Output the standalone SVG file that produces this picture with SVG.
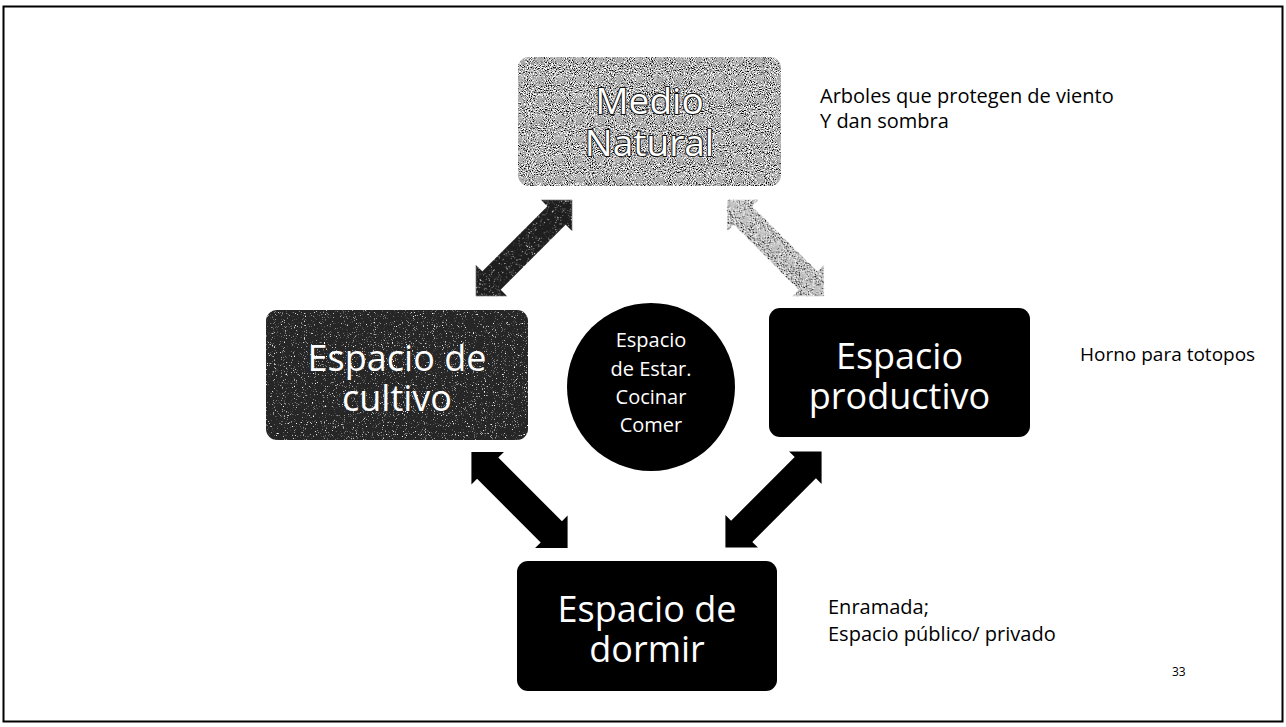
<svg xmlns="http://www.w3.org/2000/svg" width="1286" height="727" viewBox="0 0 1286 727">
<style>
.lbl{font-family:"Open Sans","Noto Sans",sans-serif;fill:#fff;text-anchor:middle}
.big{font-size:36px}
.sm{font-size:20px}
.note{font-family:"Open Sans","Noto Sans",sans-serif;font-size:20px;fill:#000}
.out{fill:#fff;stroke:#111;stroke-width:2px;paint-order:stroke;font-size:37px}
</style>
<defs>
<filter id="spkW" x="0" y="0" width="100%" height="100%" color-interpolation-filters="sRGB">
<feTurbulence type="fractalNoise" baseFrequency="0.9" numOctaves="2" seed="4" result="t"/>
<feColorMatrix in="t" type="matrix" values="0 0 0 0 1 0 0 0 0 1 0 0 0 0 1 5 0 0 0 -3.1" result="w"/>
<feComposite in="w" in2="SourceGraphic" operator="in" result="wm"/>
<feMerge><feMergeNode in="SourceGraphic"/><feMergeNode in="wm"/></feMerge>
</filter>
<filter id="spkG" x="0" y="0" width="100%" height="100%" color-interpolation-filters="sRGB">
<feTurbulence type="fractalNoise" baseFrequency="0.95" numOctaves="2" seed="7" result="t"/>
<feColorMatrix in="t" type="matrix" values="0 0 0 0 1 0 0 0 0 1 0 0 0 0 1 6 0 0 0 -3.0" result="w"/>
<feColorMatrix in="t" type="matrix" values="0 0 0 0 0 0 0 0 0 0 0 0 0 0 0 -6 0 0 0 2.6" result="b"/>
<feComposite in="w" in2="SourceGraphic" operator="in" result="wm"/>
<feComposite in="b" in2="SourceGraphic" operator="in" result="bm"/>
<feMerge><feMergeNode in="SourceGraphic"/><feMergeNode in="wm"/><feMergeNode in="bm"/></feMerge>
</filter>
<path id="arr" d="M68,0 L46,-22 L46,-13 L-46,-13 L-46,-22 L-68,0 L-46,22 L-46,13 L46,13 L46,22 Z"/>
<path id="arrB" d="M68,0 L45,-23 L45,-15 L-45,-15 L-45,-23 L-68,0 L-45,23 L-45,15 L45,15 L45,23 Z"/>
</defs>
<rect x="0" y="0" width="1286" height="727" fill="#fff"/>
<rect x="3.5" y="6.5" width="1279" height="715" fill="none" stroke="#000" stroke-width="2"/>

<g id="connectors">
<use href="#arr" transform="translate(524,248) rotate(-45)" fill="#1e1e1e" filter="url(#spkW)"/>
<use href="#arr" transform="translate(775.5,248) rotate(45)" fill="#bdbdbd" filter="url(#spkG)"/>
<use href="#arrB" transform="translate(519.5,500) rotate(45)" fill="#000"/>
<use href="#arrB" transform="translate(773.5,499.5) rotate(135)" fill="#000"/>
</g>

<g id="medio-natural">
<rect x="518" y="57" width="263" height="129" rx="11" fill="#a8a8a8" filter="url(#spkG)"/>
<text class="lbl out" x="649.5" y="114">Medio</text>
<text class="lbl out" x="649.5" y="156">Natural</text>
</g>

<g id="espacio-cultivo">
<rect x="266" y="310" width="262" height="130" rx="11" fill="#262626" filter="url(#spkW)"/>
<text class="lbl big" x="397" y="371">Espacio de</text>
<text class="lbl big" x="397" y="411">cultivo</text>
</g>

<g id="espacio-estar">
<circle cx="651" cy="387" r="84" fill="#000"/>
<text class="lbl sm" x="651" y="347">Espacio</text>
<text class="lbl sm" x="651" y="376">de Estar.</text>
<text class="lbl sm" x="651" y="404">Cocinar</text>
<text class="lbl sm" x="651" y="432">Comer</text>
</g>

<g id="espacio-productivo">
<rect x="769" y="308" width="261" height="129" rx="11" fill="#000"/>
<text class="lbl big" x="899.5" y="369">Espacio</text>
<text class="lbl big" x="899.5" y="409">productivo</text>
</g>

<g id="espacio-dormir">
<rect x="517" y="561" width="260" height="130" rx="11" fill="#000"/>
<text class="lbl big" x="647" y="622">Espacio de</text>
<text class="lbl big" x="647" y="662">dormir</text>
</g>

<g id="notes">
<text class="note" x="820" y="103">Arboles que protegen de viento</text>
<text class="note" x="820" y="128">Y dan sombra</text>
<text class="note" x="1080" y="361" style="font-size:19px">Horno para totopos</text>
<text class="note" x="828" y="614">Enramada;</text>
<text class="note" x="828" y="641">Espacio público/ privado</text>
<text class="note" x="1172" y="676" style="font-size:12px">33</text>
</g>
</svg>
